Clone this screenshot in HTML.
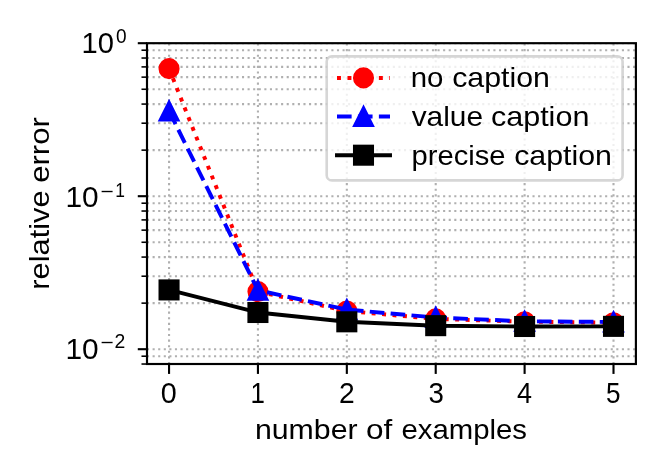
<!DOCTYPE html>
<html><head><meta charset="utf-8"><title>relative error vs number of examples</title>
<style>html,body{margin:0;padding:0;background:#fff;}body{width:664px;height:475px;overflow:hidden;font-family:"Liberation Sans",sans-serif;}svg{display:block;will-change:transform;}</style>
</head><body>
<svg width="664" height="475" viewBox="0 0 664 475">
<rect x="0" y="0" width="664" height="475" fill="#ffffff"/>
<defs><clipPath id="ax"><rect x="147.0" y="43.2" width="488.9" height="320.8"/></clipPath></defs>
<g fill="none" stroke="#b0b0b0" stroke-width="2.106666666666667" stroke-dasharray="2.106666666666667 3.48" clip-path="url(#ax)"><path d="M169.05 364.0V43.2"/><path d="M257.94 364.0V43.2"/><path d="M346.83 364.0V43.2"/><path d="M435.72 364.0V43.2"/><path d="M524.61 364.0V43.2"/><path d="M613.5 364.0V43.2"/><path d="M147.0 43.2H635.9"/><path d="M147.0 196.2H635.9"/><path d="M147.0 349.2H635.9"/><path d="M147.0 150.14H635.9"/><path d="M147.0 123.2H635.9"/><path d="M147.0 104.08H635.9"/><path d="M147.0 89.26H635.9"/><path d="M147.0 77.14H635.9"/><path d="M147.0 66.9H635.9"/><path d="M147.0 58.03H635.9"/><path d="M147.0 50.2H635.9"/><path d="M147.0 303.14H635.9"/><path d="M147.0 276.2H635.9"/><path d="M147.0 257.08H635.9"/><path d="M147.0 242.26H635.9"/><path d="M147.0 230.14H635.9"/><path d="M147.0 219.9H635.9"/><path d="M147.0 211.03H635.9"/><path d="M147.0 203.2H635.9"/><path d="M147.0 364.03H635.9"/><path d="M147.0 356.2H635.9"/></g>
<g fill="none" stroke="#000" stroke-width="2.11"><path d="M169.05 364.0v9.92"/><path d="M257.94 364.0v9.92"/><path d="M346.83 364.0v9.92"/><path d="M435.72 364.0v9.92"/><path d="M524.61 364.0v9.92"/><path d="M613.5 364.0v9.92"/><path d="M147.0 43.2h-9.22"/><path d="M147.0 196.2h-9.22"/><path d="M147.0 349.2h-9.22"/></g>
<g fill="none" stroke="#000" stroke-width="1.58"><path d="M147.0 150.14h-5.52"/><path d="M147.0 123.2h-5.52"/><path d="M147.0 104.08h-5.52"/><path d="M147.0 89.26h-5.52"/><path d="M147.0 77.14h-5.52"/><path d="M147.0 66.9h-5.52"/><path d="M147.0 58.03h-5.52"/><path d="M147.0 50.2h-5.52"/><path d="M147.0 303.14h-5.52"/><path d="M147.0 276.2h-5.52"/><path d="M147.0 257.08h-5.52"/><path d="M147.0 242.26h-5.52"/><path d="M147.0 230.14h-5.52"/><path d="M147.0 219.9h-5.52"/><path d="M147.0 211.03h-5.52"/><path d="M147.0 203.2h-5.52"/><path d="M147.0 364.03h-5.52"/><path d="M147.0 356.2h-5.52"/></g>
<g clip-path="url(#ax)">
<path d="M169.05 68.63L257.94 291.58L346.83 311L435.72 318.89L524.61 321.68L613.5 322.7" fill="none" stroke="#ff0000" stroke-width="3.95" stroke-dasharray="3.95 6.52"/>
<circle cx="169.05" cy="68.63" r="9.22" fill="#ff0000" stroke="#ff0000" stroke-width="2.63"/><circle cx="257.94" cy="291.58" r="9.22" fill="#ff0000" stroke="#ff0000" stroke-width="2.63"/><circle cx="346.83" cy="311" r="9.22" fill="#ff0000" stroke="#ff0000" stroke-width="2.63"/><circle cx="435.72" cy="318.89" r="9.22" fill="#ff0000" stroke="#ff0000" stroke-width="2.63"/><circle cx="524.61" cy="321.68" r="9.22" fill="#ff0000" stroke="#ff0000" stroke-width="2.63"/><circle cx="613.5" cy="322.7" r="9.22" fill="#ff0000" stroke="#ff0000" stroke-width="2.63"/>
<path d="M169.05 110.99L257.94 290.28L346.83 309.59L435.72 317.51L524.61 321.29L613.5 321.99" fill="none" stroke="#0000ff" stroke-width="3.95" stroke-dasharray="14.62 6.32"/>
<path d="M169.05 101.78L159.83 120.21L178.27 120.21Z" fill="#0000ff" stroke="#0000ff" stroke-width="2.63" stroke-linejoin="miter" stroke-miterlimit="10"/><path d="M257.94 281.07L248.72 299.5L267.16 299.5Z" fill="#0000ff" stroke="#0000ff" stroke-width="2.63" stroke-linejoin="miter" stroke-miterlimit="10"/><path d="M346.83 300.38L337.61 318.81L356.05 318.81Z" fill="#0000ff" stroke="#0000ff" stroke-width="2.63" stroke-linejoin="miter" stroke-miterlimit="10"/><path d="M435.72 308.3L426.5 326.73L444.94 326.73Z" fill="#0000ff" stroke="#0000ff" stroke-width="2.63" stroke-linejoin="miter" stroke-miterlimit="10"/><path d="M524.61 312.07L515.39 330.51L533.83 330.51Z" fill="#0000ff" stroke="#0000ff" stroke-width="2.63" stroke-linejoin="miter" stroke-miterlimit="10"/><path d="M613.5 312.78L604.28 331.21L622.72 331.21Z" fill="#0000ff" stroke="#0000ff" stroke-width="2.63" stroke-linejoin="miter" stroke-miterlimit="10"/>
<path d="M169.05 289.93L257.94 312.51L346.83 321.82L435.72 325.67L524.61 326.51L613.5 326.37" fill="none" stroke="#000000" stroke-width="3.95" stroke-linejoin="round" stroke-linecap="square"/>
<rect x="159.83" y="280.71" width="18.43" height="18.43" fill="#000000" stroke="#000000" stroke-width="2.63"/><rect x="248.72" y="303.29" width="18.43" height="18.43" fill="#000000" stroke="#000000" stroke-width="2.63"/><rect x="337.61" y="312.6" width="18.43" height="18.43" fill="#000000" stroke="#000000" stroke-width="2.63"/><rect x="426.5" y="316.45" width="18.43" height="18.43" fill="#000000" stroke="#000000" stroke-width="2.63"/><rect x="515.39" y="317.29" width="18.43" height="18.43" fill="#000000" stroke="#000000" stroke-width="2.63"/><rect x="604.28" y="317.15" width="18.43" height="18.43" fill="#000000" stroke="#000000" stroke-width="2.63"/>
</g>
<rect x="147.0" y="43.2" width="488.9" height="320.8" fill="none" stroke="#000" stroke-width="2.16"/>
<rect x="326.7" y="56.4" width="295.9" height="124" rx="5.2" ry="5.2" fill="#ffffff" fill-opacity="0.8" stroke="#cccccc" stroke-opacity="0.8" stroke-width="2.63"/>
<path d="M337.0 77.9H390.0" fill="none" stroke="#ff0000" stroke-width="3.95" stroke-dasharray="3.95 6.52"/><circle cx="363.5" cy="77.9" r="9.22" fill="#ff0000" stroke="#ff0000" stroke-width="2.63"/>
<path d="M337.0 116.5H390.0" fill="none" stroke="#0000ff" stroke-width="3.95" stroke-dasharray="14.62 6.32"/><path d="M363.5 107.28L354.28 125.72L372.72 125.72Z" fill="#0000ff" stroke="#0000ff" stroke-width="2.63" stroke-linejoin="miter" stroke-miterlimit="10"/>
<path d="M337.0 155.2H390.0" fill="none" stroke="#000000" stroke-width="3.95" stroke-linecap="square"/><rect x="354.28" y="145.98" width="18.43" height="18.43" fill="#000000" stroke="#000000" stroke-width="2.63"/>
<g font-family="Liberation Sans, sans-serif" fill="#000000"><text font-size="28.5"><tspan x="254.9" y="439" textLength="102.7" lengthAdjust="spacingAndGlyphs">number</tspan> <tspan x="365.9" y="439" textLength="26.3" lengthAdjust="spacingAndGlyphs">of</tspan> <tspan x="401.5" y="439" textLength="125.5" lengthAdjust="spacingAndGlyphs">examples</tspan></text><text font-size="28.5" transform="translate(49.2 0) rotate(-90)"><tspan x="-289.7" y="0" textLength="99.3" lengthAdjust="spacingAndGlyphs">relative</tspan> <tspan x="-182.8" y="0" textLength="65.7" lengthAdjust="spacingAndGlyphs">error</tspan></text><text font-size="28.5"><tspan x="410.7" y="87" textLength="32.7" lengthAdjust="spacingAndGlyphs">no</tspan> <tspan x="452.2" y="87" textLength="97.7" lengthAdjust="spacingAndGlyphs">caption</tspan></text><text font-size="28.5"><tspan x="411.7" y="126" textLength="71.4" lengthAdjust="spacingAndGlyphs">value</tspan> <tspan x="490.9" y="126" textLength="98.5" lengthAdjust="spacingAndGlyphs">caption</tspan></text><text font-size="28.5"><tspan x="411.6" y="165" textLength="93.9" lengthAdjust="spacingAndGlyphs">precise</tspan> <tspan x="514.2" y="165" textLength="97.8" lengthAdjust="spacingAndGlyphs">caption</tspan></text><text font-size="29.5"><tspan x="160.8" y="402.9" textLength="16.0" lengthAdjust="spacingAndGlyphs">0</tspan></text><text font-size="29.5"><tspan x="250.4" y="402.9" textLength="14.4" lengthAdjust="spacingAndGlyphs">1</tspan></text><text font-size="29.5"><tspan x="339.0" y="402.9" textLength="15.7" lengthAdjust="spacingAndGlyphs">2</tspan></text><text font-size="29.5"><tspan x="428.4" y="402.9" textLength="15.4" lengthAdjust="spacingAndGlyphs">3</tspan></text><text font-size="29.5"><tspan x="517.0" y="402.9" textLength="15.0" lengthAdjust="spacingAndGlyphs">4</tspan></text><text font-size="29.5"><tspan x="606.0" y="402.9" textLength="14.5" lengthAdjust="spacingAndGlyphs">5</tspan></text><text font-size="29.5"><tspan x="81.6" y="52.7" textLength="32.4" lengthAdjust="spacingAndGlyphs">10</tspan></text><text font-size="19.8"><tspan x="116.0" y="42.8" textLength="10.6" lengthAdjust="spacingAndGlyphs">0</tspan></text><text font-size="29.5"><tspan x="65.5" y="206.7" textLength="33.2" lengthAdjust="spacingAndGlyphs">10</tspan></text><text font-size="19.5"><tspan x="100.4" y="198.0" textLength="13.2" lengthAdjust="spacingAndGlyphs">−</tspan></text><text font-size="19.5"><tspan x="115.2" y="196.7" textLength="9.7" lengthAdjust="spacingAndGlyphs">1</tspan></text><text font-size="29.5"><tspan x="65.5" y="358.8" textLength="33.2" lengthAdjust="spacingAndGlyphs">10</tspan></text><text font-size="19.5"><tspan x="100.4" y="349.4" textLength="13.2" lengthAdjust="spacingAndGlyphs">−</tspan></text><text font-size="19.5"><tspan x="114.6" y="348.0" textLength="10.8" lengthAdjust="spacingAndGlyphs">2</tspan></text></g>
</svg>
</body></html>
